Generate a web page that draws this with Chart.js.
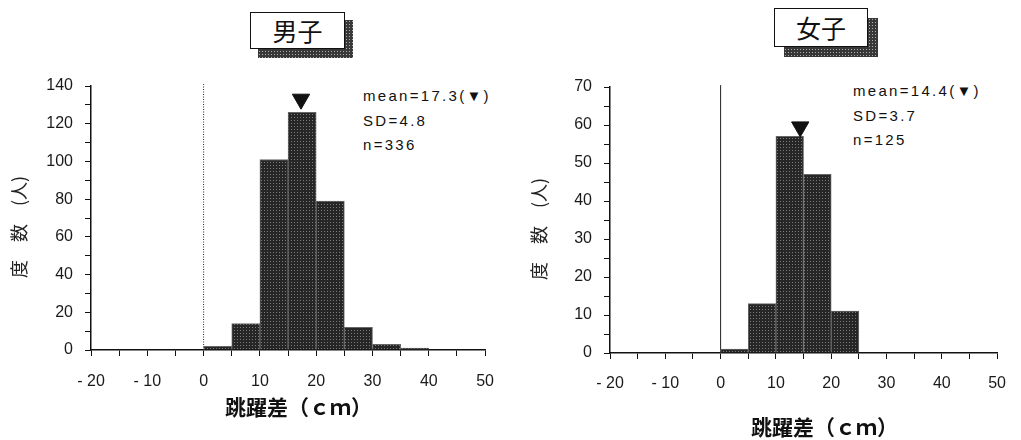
<!DOCTYPE html>
<html>
<head>
<meta charset="utf-8">
<script src="https://cdn.jsdelivr.net/npm/chart.js@4.4.1/dist/chart.umd.min.js"></script>
<style>
  html, body { margin: 0; padding: 0; background: #fff; }
  body { width: 1021px; height: 440px; position: relative; overflow: hidden; font-family: "Liberation Sans", Arial, sans-serif; }
  canvas { position: absolute; top: 0; }
  .shadow { position: absolute; background: radial-gradient(circle, #b0b0b0 0.6px, #383838 0.9px) 0 0 / 3px 3px; }
  .tbox { position: absolute; box-sizing: border-box; border: 1.5px solid #111; background: #fff; color: #111;
          font: 25px "Noto Sans CJK JP", sans-serif; text-align: center; }
  .stats { position: absolute; font-size: 15px; letter-spacing: 2.3px; line-height: 24.5px; color: #111; }
</style>
</head>
<body>
<div class="shadow" style="left:258px;top:20px;width:95px;height:38px"></div>
<div class="tbox" style="left:250px;top:12px;width:95px;height:37px;line-height:34px">男子</div>
<div class="shadow" style="left:784px;top:18px;width:94px;height:39px"></div>
<div class="tbox" style="left:774px;top:8px;width:94px;height:39px;line-height:36px">女子</div>

<div class="stats" style="left:363px;top:84px">mean=17.3(▼)<br>SD=4.8<br>n=336</div>
<div class="stats" style="left:853px;top:79px">mean=14.4(▼)<br>SD=3.7<br>n=125</div>

<canvas id="boys" width="510" height="440" style="left:0"></canvas>
<canvas id="girls" width="511" height="440" style="left:510px"></canvas>

<script>
// histogram bins (left edge of each 5 cm bin) and counts
const binWidth = 5;
const boysBinStart = [0, 5, 10, 15, 20, 25, 30, 35];
const boysCount = [2, 14, 101, 126, 79, 12, 3, 1];
const girlsBinStart = [0, 5, 10, 15, 20];
const girlsCount = [1, 13, 57, 47, 11];

// means (the ▼ marks)
const boysMean = 17.3;
const girlsMean = 14.4;

// axis ticks
const xTickValues = [-20, -10, 0, 10, 20, 30, 40, 50];
const xTickLabels = ['- 20', '- 10', '0', '10', '20', '30', '40', '50'];
const xTitle = '跳躍差（ｃｍ）';
const yTitle = '度　数　(人)　';

// stippled fill like the printed bars
function stipple(canvas) {
  const tile = document.createElement('canvas');
  tile.width = 3; tile.height = 3;
  const t = tile.getContext('2d');
  t.fillStyle = '#262626';
  t.fillRect(0, 0, 3, 3);
  t.fillStyle = '#7c7c7c';
  t.fillRect(0, 0, 1, 1);
  return canvas.getContext('2d').createPattern(tile, 'repeat');
}

function histChart(id, cfg) {
  const canvas = document.getElementById(id);
  const bars = cfg.start.map((s, i) => ({ x: s + binWidth / 2, y: cfg.count[i] }));
  const tickFont = { family: 'Liberation Sans', size: 16 };

  return new Chart(canvas, {
    type: 'bar',
    data: {
      datasets: [
        {
          type: 'scatter',
          data: [{ x: cfg.mean, y: cfg.markY }],
          pointStyle: 'triangle',
          pointRotation: 180,
          pointRadius: 10,
          pointBackgroundColor: '#111',
          pointBorderColor: '#111',
          pointBorderWidth: 1,
          clip: false,
          order: 0
        },
        {
          type: 'bar',
          data: bars,
          backgroundColor: stipple(canvas),
          borderColor: '#666',
          borderWidth: 1,
          barPercentage: 1,
          categoryPercentage: 1,
          grouped: false,
          order: 1
        },
        {
          type: 'line',
          data: [{ x: 0, y: 0 }, { x: 0, y: cfg.zeroTop }],
          borderColor: '#222',
          borderWidth: 1,
          borderDash: cfg.zeroDash,
          pointRadius: 0,
          clip: false,
          order: 2
        }
      ]
    },
    options: {
      responsive: false,
      animation: false,
      layout: { padding: { left: 0, top: cfg.padTop, right: cfg.padRight, bottom: 0 } },
      plugins: { legend: { display: false }, tooltip: { enabled: false } },
      scales: {
        x: {
          type: 'linear',
          min: -20,
          max: 50,
          offset: false,
          grid: { offset: false, drawOnChartArea: false, color: '#111', tickLength: 6 },
          border: { color: '#111', width: 1.5 },
          ticks: {
            stepSize: 5,
            autoSkip: false,
            maxRotation: 0,
            padding: cfg.xTickPad,
            color: '#1a1a1a',
            font: tickFont,
            callback: (v) => {
              const i = xTickValues.indexOf(v);
              return i >= 0 ? xTickLabels[i] : '';
            }
          },
          title: {
            display: true,
            text: cfg.xTitle,
            color: '#111',
            font: { family: 'Noto Sans CJK JP', size: 21, weight: 'bold' },
            padding: { top: 0, bottom: cfg.xTitlePad }
          },
          afterFit: (s) => { s.height = cfg.xAxisH; }
        },
        y: {
          min: 0,
          max: cfg.yMax,
          grid: { drawOnChartArea: false, color: '#111', tickLength: 6 },
          border: { color: '#111', width: 1.5 },
          ticks: {
            stepSize: cfg.yStep,
            autoSkip: false,
            padding: 12,
            color: '#1a1a1a',
            font: tickFont,
            callback: (v) => (v % cfg.yLabelEvery === 0 ? v : '')
          },
          title: {
            display: true,
            text: yTitle,
            color: '#222',
            font: { family: 'Noto Sans CJK JP', size: 18 },
            padding: { top: cfg.yTitlePad, bottom: 0 }
          },
          afterFit: (s) => { s.width = cfg.yAxisW; }
        }
      }
    }
  });
}

histChart('boys', {
  start: boysBinStart, count: boysCount, mean: boysMean, markY: 133,
  zeroTop: 141, zeroDash: [1, 1.5],
  yMax: 140, yStep: 10, yLabelEvery: 20,
  padTop: 86, padRight: 17, yAxisW: 91, xAxisH: 90,
  xTickPad: 16, xTitlePad: 20, yTitlePad: 8, xTitle: '　' + xTitle
});

histChart('girls', {
  start: girlsBinStart, count: girlsCount, mean: girlsMean, markY: 59.5,
  zeroTop: 70.5, zeroDash: [],
  yMax: 70, yStep: 5, yLabelEvery: 10,
  padTop: 87, padRight: 11, yAxisW: 100, xAxisH: 87,
  xTickPad: 15, xTitlePad: 0, yTitlePad: 18, xTitle: '　　' + xTitle
});
</script>
</body>
</html>
